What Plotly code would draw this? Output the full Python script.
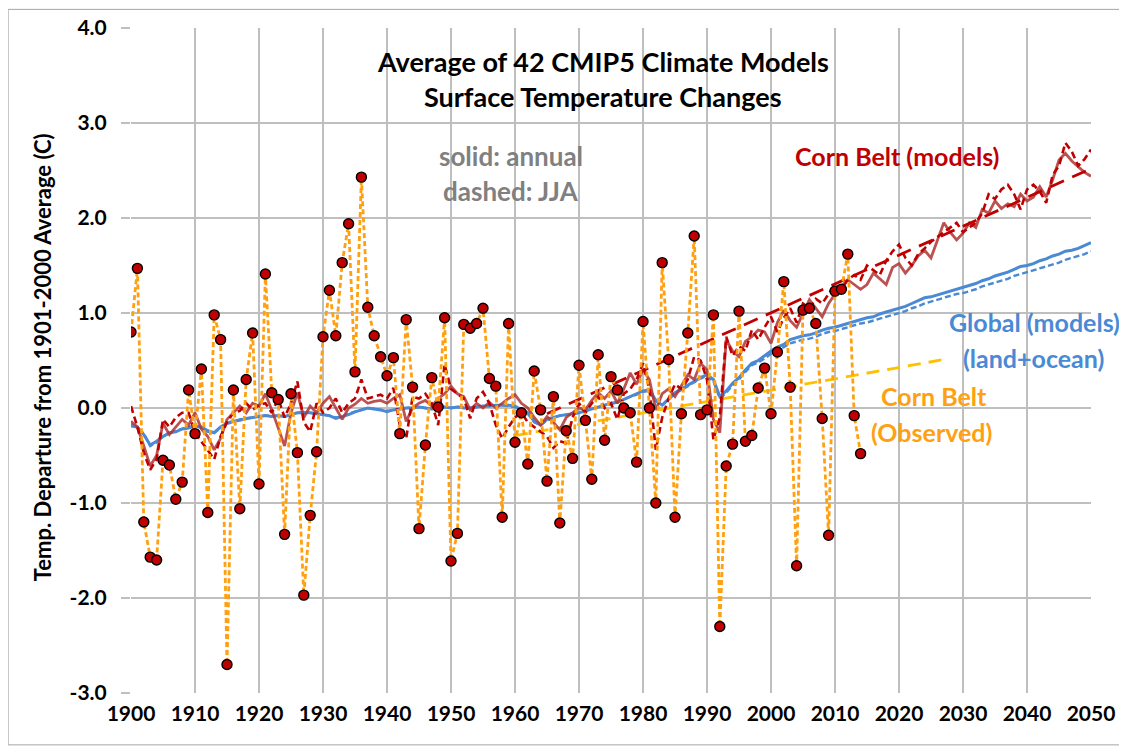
import plotly.graph_objects as go

# ---------------- data ----------------
obs_start = 1900
obs_vals = [0.80, 1.47, -1.20, -1.57, -1.60, -0.55, -0.60, -0.96, -0.78, 0.19,
            -0.27, 0.41, -1.10, 0.98, 0.72, -2.70, 0.19, -1.06, 0.30, 0.79,
            -0.80, 1.41, 0.16, 0.09, -1.33, 0.15, -0.47, -1.97, -1.13, -0.46,
            0.75, 1.24, 0.76, 1.53, 1.94, 0.38, 2.43, 1.06, 0.76, 0.54,
            0.34, 0.53, -0.27, 0.93, 0.22, -1.27, -0.39, 0.32, 0.01, 0.95,
            -1.61, -1.32, 0.88, 0.84, 0.89, 1.05, 0.31, 0.23, -1.15, 0.89,
            -0.36, -0.05, -0.59, 0.39, -0.02, -0.77, 0.12, -1.21, -0.24, -0.53,
            0.45, -0.13, -0.75, 0.56, -0.34, 0.33, 0.19, 0.00, -0.05, -0.57,
            0.91, 0.00, -1.00, 1.53, 0.51, -1.15, -0.06, 0.79, 1.81, -0.07,
            -0.02, 0.98, -2.30, -0.61, -0.38, 1.02, -0.35, -0.29, 0.21, 0.42,
            -0.06, 0.59, 1.33, 0.22, -1.66, 1.03, 1.05, 0.89, -0.11, -1.34,
            1.23, 1.25, 1.62, -0.08, -0.48]
obs_years = list(range(obs_start, obs_start + len(obs_vals)))

model_start = 1900
cb_annual = [-0.14, -0.20, -0.40, -0.61, -0.50, -0.16, -0.28, -0.20, -0.12, -0.18,
             -0.05, -0.22, -0.30, -0.44, -0.32, -0.12, -0.05, 0.02, -0.05, 0.05,
             0.02, 0.15, -0.02, -0.20, -0.40, -0.05, 0.16, -0.10, 0.02, -0.05,
             0.05, 0.12, 0.00, -0.12, 0.00, 0.04, 0.10, 0.05, 0.07, 0.08,
             0.05, 0.10, 0.14, -0.14, 0.00, 0.05, 0.08, 0.02, 0.10, 0.15,
             0.23, 0.15, 0.12, -0.02, 0.05, 0.00, 0.06, 0.00, 0.05, 0.10,
             0.14, 0.05, 0.00, -0.10, -0.18, -0.09, -0.15, -0.23, -0.10, -0.05,
             0.00, -0.02, 0.08, 0.16, 0.10, 0.18, 0.05, 0.20, 0.37, 0.25,
             0.40, 0.30, -0.02, 0.15, 0.20, 0.12, 0.23, 0.35, 0.30, 0.47,
             0.40, -0.12, -0.26, 0.72, 0.60, 0.54, 0.70, 0.75, 0.82, 0.80,
             0.68, 0.90, 1.03, 0.92, 0.85, 1.00, 1.14, 1.05, 0.96, 1.10,
             1.20, 1.28, 1.35, 1.30, 1.25, 1.30, 1.42, 1.36, 1.30, 1.48,
             1.52, 1.42, 1.50, 1.60, 1.66, 1.58, 1.77, 1.95, 1.85, 1.77,
             1.84, 1.95, 1.90, 2.09, 2.05, 2.18, 2.10, 2.15, 2.12, 2.25,
             2.18, 2.22, 2.33, 2.22, 2.40, 2.61, 2.68, 2.60, 2.54, 2.48,
             2.44]
cb_jja = [0.02, -0.20, -0.47, -0.65, -0.54, -0.12, -0.20, -0.10, -0.05, -0.05,
          -0.26, -0.35, -0.45, -0.54, -0.30, -0.15, -0.05, -0.03, 0.05, -0.02,
          0.03, 0.05, -0.05, 0.10, -0.10, 0.05, 0.28, -0.15, -0.25, 0.05,
          -0.05, 0.00, 0.10, -0.05, 0.05, 0.10, 0.30, 0.10, 0.12, 0.14,
          0.10, 0.21, -0.18, -0.32, 0.12, 0.10, 0.15, 0.05, -0.18, 0.46,
          0.20, 0.15, 0.10, -0.11, 0.10, 0.17, 0.05, -0.18, -0.32, -0.20,
          -0.10, -0.05, -0.15, -0.20, -0.25, -0.30, -0.42, -0.35, -0.37, -0.10,
          0.05, -0.05, 0.05, 0.12, 0.00, 0.05, -0.12, 0.15, 0.20, 0.30,
          0.47, 0.20, -0.44, -0.10, 0.10, 0.25, 0.20, 0.30, 0.54, 0.50,
          0.30, -0.33, -0.10, 0.75, 0.55, 0.65, 0.60, 0.82, 0.72, 0.85,
          0.96, 0.80, 0.95, 1.05, 0.90, 1.10, 1.05, 1.15, 1.10, 1.20,
          1.30, 1.25, 1.35, 1.40, 1.35, 1.50, 1.45, 1.40, 1.55, 1.65,
          1.72, 1.58, 1.50, 1.62, 1.68, 1.75, 1.80, 1.85, 1.90, 1.95,
          1.85, 1.90, 1.95, 2.05, 2.25, 2.20, 2.30, 2.35, 2.25, 2.09,
          2.30, 2.35, 2.28, 2.16, 2.45, 2.55, 2.79, 2.70, 2.55, 2.62,
          2.72]
gl_annual = [-0.19, -0.20, -0.28, -0.39, -0.35, -0.30, -0.26, -0.25, -0.22, -0.21,
             -0.19, -0.20, -0.24, -0.26, -0.20, -0.16, -0.14, -0.13, -0.11, -0.10,
             -0.09, -0.08, -0.09, -0.08, -0.09, -0.07, -0.05, -0.05, -0.05, -0.06,
             -0.07, -0.08, -0.11, -0.09, -0.07, -0.04, -0.02, 0.00, -0.01, -0.02,
             -0.04, -0.02, -0.01, 0.00, 0.00, 0.01, 0.00, -0.01, 0.00, 0.01,
             0.00, 0.01, 0.00, 0.00, 0.01, 0.02, 0.02, 0.03, 0.03, 0.03,
             0.02, -0.02, -0.05, -0.14, -0.18, -0.12, -0.10, -0.08, -0.07, -0.06,
             -0.05, -0.03, -0.01, 0.01, 0.03, 0.05, 0.06, 0.09, 0.12, 0.15,
             0.18, 0.19, 0.08, 0.03, 0.10, 0.16, 0.20, 0.24, 0.28, 0.32,
             0.35, 0.30, 0.12, 0.18, 0.26, 0.32, 0.40, 0.47, 0.50, 0.55,
             0.60, 0.64, 0.67, 0.72, 0.74, 0.76, 0.77, 0.79, 0.82, 0.84,
             0.85, 0.87, 0.89, 0.91, 0.93, 0.95, 0.96, 0.99, 1.01, 1.03,
             1.05, 1.07, 1.10, 1.13, 1.16, 1.17, 1.19, 1.21, 1.23, 1.25,
             1.27, 1.29, 1.31, 1.34, 1.36, 1.39, 1.41, 1.43, 1.46, 1.49,
             1.50, 1.52, 1.55, 1.57, 1.60, 1.62, 1.65, 1.66, 1.68, 1.71,
             1.74]
gl_jja = [-0.17, -0.21, -0.27, -0.40, -0.36, -0.30, -0.27, -0.24, -0.22, -0.20,
          -0.19, -0.21, -0.25, -0.26, -0.21, -0.17, -0.14, -0.12, -0.11, -0.10,
          -0.09, -0.08, -0.08, -0.08, -0.09, -0.07, -0.05, -0.04, -0.05, -0.06,
          -0.07, -0.08, -0.10, -0.09, -0.06, -0.04, -0.02, 0.00, -0.01, -0.02,
          -0.03, -0.02, -0.01, 0.00, 0.01, 0.01, 0.00, -0.01, 0.00, 0.01,
          0.00, 0.01, 0.01, 0.00, 0.01, 0.02, 0.02, 0.03, 0.03, 0.02,
          0.01, -0.02, -0.06, -0.15, -0.18, -0.13, -0.10, -0.08, -0.07, -0.06,
          -0.05, -0.03, -0.01, 0.01, 0.03, 0.04, 0.06, 0.09, 0.12, 0.14,
          0.17, 0.18, 0.07, 0.03, 0.09, 0.15, 0.19, 0.23, 0.27, 0.31,
          0.34, 0.28, 0.10, 0.16, 0.24, 0.30, 0.38, 0.45, 0.48, 0.52,
          0.57, 0.61, 0.64, 0.68, 0.70, 0.72, 0.73, 0.75, 0.78, 0.80,
          0.81, 0.83, 0.85, 0.87, 0.89, 0.90, 0.92, 0.94, 0.96, 0.98,
          1.00, 1.02, 1.05, 1.07, 1.10, 1.12, 1.14, 1.16, 1.18, 1.20,
          1.21, 1.23, 1.25, 1.28, 1.30, 1.32, 1.34, 1.36, 1.39, 1.41,
          1.43, 1.45, 1.47, 1.49, 1.51, 1.53, 1.56, 1.58, 1.60, 1.62,
          1.65]
model_years = list(range(model_start, model_start + len(cb_annual)))

cb_trend_years = [1965, 2050]
cb_trend_vals = [-0.06, 2.52]
obs_trend_years = [1960, 2027]
obs_trend_vals = [-0.29, 0.51]

x_ticks = list(range(1900, 2051, 10))
x_tick_labels = [str(v) for v in x_ticks]
y_ticks = [-3, -2, -1, 0, 1, 2, 3, 4]
y_tick_labels = ["-3.0", "-2.0", "-1.0", "0.0", "1.0", "2.0", "3.0", "4.0"]
y_title = "Temp. Departure from 1901-2000 Average (C)"

# ---------------- styles ----------------
FONT = "Lato"
ORANGE = "#FFA012"
DARKRED = "#C00000"
BROWNRED = "rgba(176,50,50,0.85)"
BLUE = "#4A89D4"
YELLOW = "#FFC000"
GRID = "#BFBFBF"

fig = go.Figure()
fig.add_trace(go.Scatter(x=model_years, y=gl_jja, mode="lines",
                         line=dict(color=BLUE, width=2.4, dash="6px,3px")))
fig.add_trace(go.Scatter(x=model_years, y=gl_annual, mode="lines",
                         line=dict(color=BLUE, width=3)))
fig.add_trace(go.Scatter(x=obs_trend_years, y=obs_trend_vals, mode="lines",
                         line=dict(color=YELLOW, width=2.8, dash="13px,8px")))
fig.add_trace(go.Scatter(x=model_years, y=cb_annual, mode="lines",
                         line=dict(color=BROWNRED, width=2.8)))
fig.add_trace(go.Scatter(x=model_years, y=cb_jja, mode="lines",
                         line=dict(color=DARKRED, width=2.6, dash="7px,4px")))
fig.add_trace(go.Scatter(x=cb_trend_years, y=cb_trend_vals, mode="lines",
                         line=dict(color=DARKRED, width=2.8, dash="15px,9px")))
fig.add_trace(go.Scatter(x=obs_years, y=obs_vals, mode="lines+markers",
                         line=dict(color=ORANGE, width=2.8, dash="5px,3px"),
                         marker=dict(size=10, color=DARKRED,
                                     line=dict(color="black", width=1.4))))

def txt(x, y, s, color, size):
    fig.add_annotation(x=x, y=y, xref="x", yref="y", text="<b>%s</b>" % s,
                       showarrow=False, xanchor="center", yanchor="middle",
                       font=dict(family=FONT, size=size, color=color))

txt(1973.8, 3.65, "Average of 42 CMIP5 Climate Models", "black", 27)
txt(1973.8, 3.28, "Surface Temperature Changes", "black", 27)
txt(1959.3, 2.65, "solid: annual", "#808080", 26)
txt(1959.3, 2.28, "dashed: JJA", "#808080", 26)
txt(2019.7, 2.65, "Corn Belt (models)", DARKRED, 25)
txt(2041.2, 0.91, "Global (models)", BLUE, 25)
txt(2041.0, 0.53, "(land+ocean)", BLUE, 25)
txt(2025.4, 0.13, "Corn Belt", ORANGE, 25)
txt(2025.0, -0.25, "(Observed)", ORANGE, 25)

# y-axis title as a rotated annotation (centred on the plot area)
fig.add_annotation(x=-0.092, xref="paper", y=0.53, yref="y",
                   text="<b>%s</b>" % y_title, textangle=-90, showarrow=False,
                   xanchor="center", yanchor="middle",
                   font=dict(family=FONT, size=22, color="black"))

# thin outer frame of the chart
fig.add_shape(type="rect", xref="paper", yref="paper",
              x0=-0.128, x1=1.031, y0=-0.078, y1=1.028,
              line=dict(color="#A6A6A6", width=1), layer="below")

fig.update_layout(
    width=1119, height=743,
    margin=dict(l=123, r=36, t=20, b=58, autoexpand=False),
    paper_bgcolor="white", plot_bgcolor="white",
    showlegend=False,
    font=dict(family=FONT, color="black"),
)
fig.update_xaxes(range=[1900, 2050], tickvals=x_ticks,
                 ticktext=["<b>%s</b>" % t for t in x_tick_labels],
                 showgrid=True, gridcolor=GRID, gridwidth=1.6, zeroline=False,
                 ticks="", showline=False, automargin=False,
                 tickfont=dict(family=FONT, size=21, color="black"),
                 ticklabelstandoff=6)
fig.update_yaxes(range=[-3, 4], tickvals=y_ticks,
                 ticktext=["<b>%s</b>" % t for t in y_tick_labels],
                 showgrid=True, gridcolor=GRID, gridwidth=1.6, zeroline=False,
                 ticks="outside", ticklen=9, tickcolor=GRID, tickwidth=1.6,
                 showline=False, automargin=False,
                 tickfont=dict(family=FONT, size=21, color="black"),
                 ticklabelstandoff=10)

fig.write_html("out.html")
